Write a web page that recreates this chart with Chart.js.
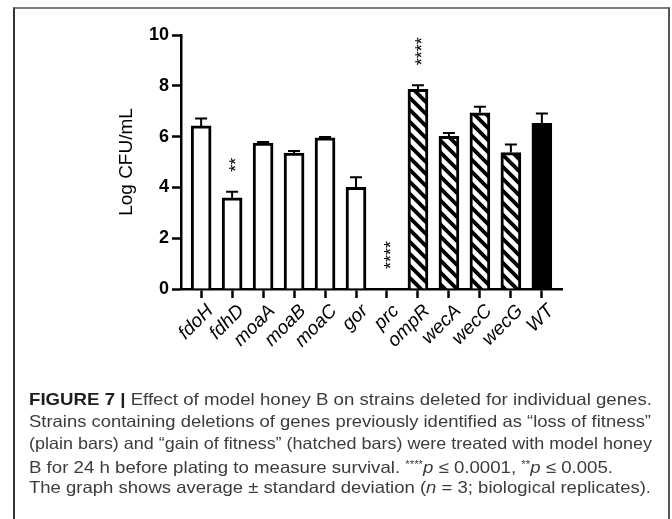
<!DOCTYPE html>
<html>
<head>
<meta charset="utf-8">
<script src="https://cdn.jsdelivr.net/npm/chart.js@4"></script>
<style>
  html, body { margin: 0; padding: 0; background: #fff; }
  #wrap { position: relative; width: 672px; height: 519px; overflow: hidden; }
  #chart { position: absolute; left: 0; top: 0; }
  #frame {
    position: absolute; left: 13px; top: 7px; width: 657px; height: 530px;
    border-top: 2px solid #7a7a7a; border-left: 2px solid #333; border-right: 2px solid #555;
    box-sizing: border-box; pointer-events: none;
  }
  .cap {
    position: absolute; left: 29px; height: 22px; line-height: 22px;
    font-family: "Liberation Sans", Arial, sans-serif; font-size: 16.5px;
    color: #3c3c3c; white-space: nowrap; transform-origin: 0 50%;
  }
  .cap b { color: #1e1e1e; }
</style>
</head>
<body>
<div id="wrap">
  <canvas id="chart" width="672" height="375"></canvas>
  <div id="frame"></div>
  <div class="cap" style="top:388px"><b>FIGURE 7 |</b> Effect of model honey B on strains deleted for individual genes.</div>
  <div class="cap" style="top:410px">Strains containing deletions of genes previously identified as “loss of fitness”</div>
  <div class="cap" style="top:432px">(plain bars) and “gain of fitness” (hatched bars) were treated with model honey</div>
  <div class="cap" style="top:454px">B for 24 h before plating to measure survival. <sup style="font-size:10px;vertical-align:5px">****</sup><i>p</i> ≤ 0.0001, <sup style="font-size:10px;vertical-align:5px">**</sup><i>p</i> ≤ 0.005.</div>
  <div class="cap" style="top:476px">The graph shows average ± standard deviation (<i>n</i> = 3; biological replicates).</div>
</div>
<script>
// Strains, survival (log CFU/mL) and standard deviations
const genes  = ['fdoH', 'fdhD', 'moaA', 'moaB', 'moaC', 'gor', 'prc', 'ompR', 'wecA', 'wecC', 'wecG', 'WT'];
const means  = [6.42, 3.59, 5.74, 5.35, 5.95, 4.00, 0, 7.86, 6.01, 6.94, 5.37, 6.52];
const sds    = [0.29, 0.24, 0.05, 0.08, 0.03, 0.40, 0, 0.16, 0.13, 0.24, 0.32, 0.39];
// 'loss' = loss of fitness, 'gain' = gain of fitness, 'wt' = wild type
const groups = ['loss', 'loss', 'loss', 'loss', 'loss', 'loss', 'loss', 'gain', 'gain', 'gain', 'gain', 'wt'];
const yTicks = [0, 2, 4, 6, 8, 10];
// significance marks
const marks  = [{ gene: 'fdhD', text: '**' }, { gene: 'prc', text: '****' }, { gene: 'ompR', text: '****' }];

// diagonal hatch fill for the gain-of-fitness strains
function hatchPattern() {
  const P = 12;
  const c = document.createElement('canvas');
  c.width = P; c.height = P;
  const g = c.getContext('2d');
  g.fillStyle = '#fff';
  g.fillRect(0, 0, P, P);
  g.strokeStyle = '#000';
  g.lineWidth = 3.8;
  g.beginPath();
  for (let k = -1; k <= 1; k++) {
    g.moveTo(-2, -2 + k * P);
    g.lineTo(P + 2, P + 2 + k * P);
  }
  g.stroke();
  return g.createPattern(c, 'repeat');
}

const ctx0 = document.getElementById('chart').getContext('2d');
const fills = { loss: '#fff', gain: hatchPattern(), wt: '#000' };

const errorBars = {
  id: 'errorBars',
  afterDatasetsDraw(chart) {
    const { ctx, scales: { x, y } } = chart;
    ctx.save();
    ctx.strokeStyle = '#000';
    ctx.lineWidth = 2;
    means.forEach((m, i) => {
      if (!sds[i]) return;
      const px = x.getPixelForValue(i);
      const base = y.getPixelForValue(m);
      const top = y.getPixelForValue(m + sds[i]);
      ctx.beginPath();
      ctx.moveTo(px, base);
      ctx.lineTo(px, top);
      ctx.moveTo(px - 6, top);
      ctx.lineTo(px + 6, top);
      ctx.stroke();
    });
    ctx.restore();
  }
};

const sigMarks = {
  id: 'sigMarks',
  afterDatasetsDraw(chart) {
    const { ctx, scales: { x, y } } = chart;
    const size = 18;
    ctx.save();
    ctx.fillStyle = '#000';
    ctx.font = size + 'px "Liberation Sans", Arial, sans-serif';
    ctx.textAlign = 'left';
    ctx.textBaseline = 'alphabetic';
    marks.forEach(mk => {
      const i = genes.indexOf(mk.gene);
      const px = x.getPixelForValue(i);
      const top = y.getPixelForValue(means[i] + sds[i]);
      ctx.save();
      ctx.translate(px + 0.57 * size, top - 20);
      ctx.rotate(-Math.PI / 2);
      ctx.fillText(mk.text, 0, 0);
      ctx.restore();
    });
    ctx.restore();
  }
};

new Chart(ctx0, {
  type: 'bar',
  data: {
    datasets: [{
      data: means.map((v, i) => ({ x: i, y: v })),
      backgroundColor: groups.map(g => fills[g]),
      borderColor: '#000',
      borderWidth: 3,
      borderSkipped: 'start',
      barThickness: 20
    }]
  },
  options: {
    responsive: false,
    animation: false,
    devicePixelRatio: 1,
    layout: { padding: { left: 115, right: 110, top: 35, bottom: 0 } },
    plugins: { legend: { display: false }, tooltip: { enabled: false } },
    scales: {
      x: {
        type: 'linear',
        offset: false,
        min: -0.65,
        max: 11.65,
        afterBuildTicks: s => { s.ticks = genes.map((_, i) => ({ value: i })); },
        afterFit: s => { s.height = 86; },
        ticks: {
          autoSkip: false,
          minRotation: 45,
          maxRotation: 45,
          padding: 2,
          labelOffset: 9,
          color: '#000',
          font: { family: '"Liberation Sans", Arial, sans-serif', size: 19, style: 'italic' },
          callback: v => genes[v]
        },
        grid: { offset: false, drawOnChartArea: false, drawTicks: true, tickLength: 9, tickWidth: 2.5, tickColor: '#000' },
        border: { display: true, color: '#000', width: 2.5 }
      },
      y: {
        min: 0,
        max: 10,
        afterBuildTicks: s => { s.ticks = yTicks.map(v => ({ value: v })); },
        afterFit: s => { s.width = 66; },
        ticks: {
          padding: 3,
          color: '#000',
          font: { family: '"Liberation Sans", Arial, sans-serif', size: 18, weight: 'bold' }
        },
        grid: { drawOnChartArea: false, drawTicks: true, tickLength: 9, tickWidth: 2.5, tickColor: '#000' },
        border: { display: true, color: '#000', width: 2.5 },
        title: {
          display: true,
          text: 'Log CFU/mL',
          color: '#000',
          padding: { top: 0, bottom: 0 },
          font: { family: '"Liberation Sans", Arial, sans-serif', size: 19, weight: 'normal' }
        }
      }
    }
  },
  plugins: [errorBars, sigMarks]
});

// fit each caption line to its printed width
const capEnds = [652, 651, 652, 613, 651];
document.querySelectorAll('.cap').forEach((el, i) => {
  const w = el.getBoundingClientRect().width;
  el.style.transform = 'scaleX(' + ((capEnds[i] - 29) / w) + ')';
});
</script>
</body>
</html>
